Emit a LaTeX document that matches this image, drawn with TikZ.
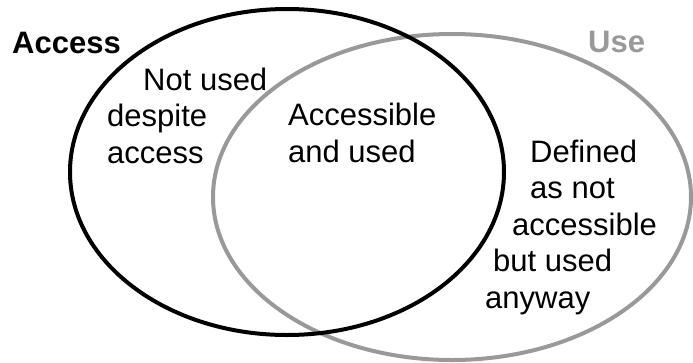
\documentclass[tikz,border=0pt]{standalone}
\usepackage{fontspec}
\setmainfont{Liberation Sans}
\definecolor{usegray}{HTML}{999999}

\tikzstyle{setline} = [line width=4pt]
\tikzstyle{settitle} = [font=\fontsize{31}{36.5}\selectfont\bfseries,
    inner sep=0pt, anchor=base west]
\tikzstyle{regiontext} = [font=\fontsize{31}{36.5}\selectfont, align=left,
    inner sep=0pt, anchor=base west]

\begin{document}
\begin{tikzpicture}[x=1pt, y=-1pt]
\useasboundingbox (0,0) rectangle (693,362);
% the two sets
\draw[setline, usegray] (452,197) ellipse [x radius=239pt, y radius=163pt];
\draw[setline, black] (287,172) ellipse [x radius=217pt, y radius=163pt];
% set names
\node[settitle] (access) at (12,53) {Access};
\node[settitle, text=usegray] (use) at (588,52) {Use};
% regions (placed at the baseline of their last line)
\node[regiontext] (notused) at (107,163) {\hspace*{36pt}Not used\\despite\\access};
\node[regiontext] (both) at (288,162) {Accessible\\and used};
\node[regiontext] (defined) at (485,308) {%
    \hspace*{45pt}Defined\\\hspace*{45pt}as not\\\hspace*{27pt}accessible\\%
    \hspace*{8pt}but used\\anyway};
\end{tikzpicture}
\end{document}
